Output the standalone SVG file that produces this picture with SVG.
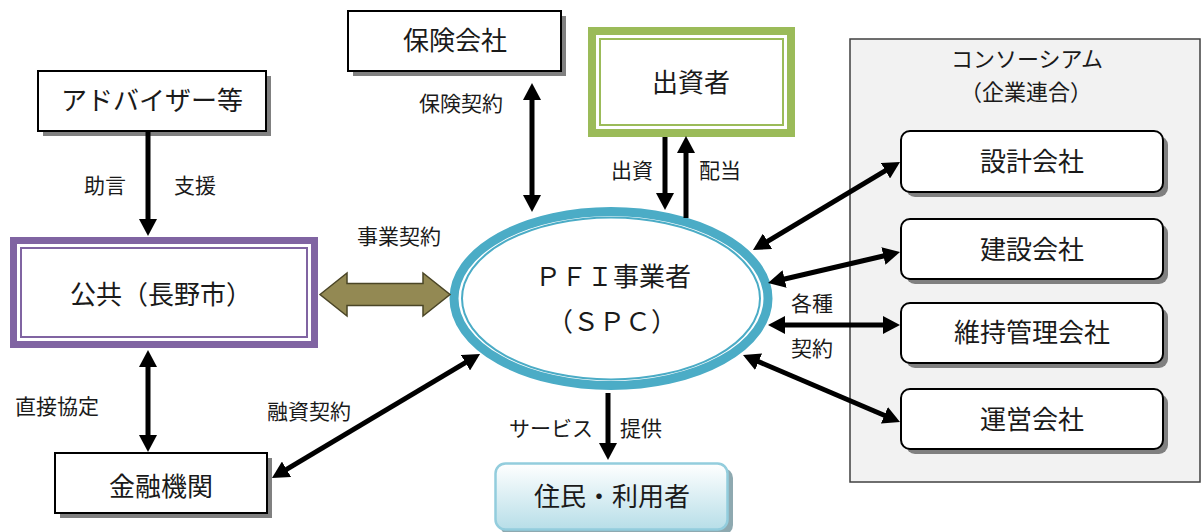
<svg xmlns="http://www.w3.org/2000/svg" width="1201" height="532" viewBox="0 0 1201 532">
<style>
text{font-family:"Noto Sans CJK JP","Noto Sans",sans-serif;fill:#1a1a1a;text-anchor:middle}
.big{font-size:26px}
.lbl{font-size:21px}
.box{fill:#fff;stroke:#000;stroke-width:2}
.shadow{fill:#808080}
.con{stroke:#000;stroke-width:5;fill:none}
.sub{fill:#fff;stroke:#000;stroke-width:2}
</style>
<defs>
<marker id="ah" viewBox="0 0 17 18" refX="1" refY="9" markerWidth="17" markerHeight="18" markerUnits="userSpaceOnUse" orient="auto-start-reverse">
<path d="M0,0 L17,9 L0,18 Z" fill="#000"/>
</marker>
<linearGradient id="lg" x1="0" y1="0" x2="0" y2="1">
<stop offset="0" stop-color="#ffffff"/>
<stop offset="1" stop-color="#b7dee8"/>
</linearGradient>
</defs>
<rect x="0" y="0" width="1201" height="532" fill="#fff"/>

<g id="consortium">
<rect x="850" y="39" width="350" height="443" fill="#f2f2f2" stroke="#404040" stroke-width="1.5"/>
<text class="lbl" x="1027" y="67" style="font-size:22px">コンソーシアム</text>
<text class="lbl" x="1026" y="100" style="font-size:22px">（企業連合）</text>
</g>

<g id="advisor">
<rect class="shadow" x="43" y="76" width="228" height="60"/>
<rect class="box" x="38" y="71" width="228" height="60"/>
<text class="big" x="152" y="110">アドバイザー等</text>
</g>

<g id="insurance">
<rect class="shadow" x="353" y="16" width="213" height="60"/>
<rect class="box" x="348" y="11" width="213" height="60"/>
<text class="big" x="455" y="50">保険会社</text>
</g>

<g id="investor">
<rect x="592" y="31" width="199" height="102" fill="#fff" stroke="#9bbb59" stroke-width="8"/>
<rect x="600" y="39" width="183" height="86" fill="none" stroke="#9bbb59" stroke-width="2"/>
<text class="big" x="691" y="92">出資者</text>
</g>

<g id="public">
<rect x="13.5" y="240.5" width="301" height="104" fill="#fff" stroke="#8064a2" stroke-width="7"/>
<rect x="21" y="248" width="286" height="89" fill="none" stroke="#8064a2" stroke-width="2"/>
<text class="big" x="161" y="304">公共（長野市）</text>
</g>

<g id="finance">
<rect class="shadow" x="60" y="458" width="212" height="60"/>
<rect class="box" x="55" y="453" width="212" height="60"/>
<text class="big" x="161" y="496">金融機関</text>
</g>

<g id="spc">
<ellipse cx="611" cy="298.5" rx="157" ry="87" fill="#fff" stroke="#4bacc6" stroke-width="9"/>
<ellipse cx="611" cy="298.5" rx="149" ry="81" fill="none" stroke="#4bacc6" stroke-width="2"/>
<text class="big" x="613" y="286">ＰＦＩ事業者</text>
<text class="big" x="612" y="331">（ＳＰＣ）</text>
</g>

<g id="residents">
<rect x="500" y="468" width="233" height="67" rx="10" fill="#8ea9b0"/>
<rect x="495.5" y="463.5" width="232" height="66" rx="10" fill="url(#lg)" stroke="#93cddd" stroke-width="2.5"/>
<text class="big" x="612" y="506">住民・利用者</text>
</g>

<g id="design">
<rect x="906" y="136" width="262" height="61" rx="9" class="shadow"/>
<rect x="901" y="131" width="262" height="61" rx="9" class="sub"/>
<text class="big" x="1032" y="171">設計会社</text>
</g>
<g id="construction">
<rect x="906" y="224" width="262" height="60" rx="9" class="shadow"/>
<rect x="901" y="219" width="262" height="60" rx="9" class="sub"/>
<text class="big" x="1032" y="259">建設会社</text>
</g>
<g id="maintenance">
<rect x="906" y="308" width="262" height="60" rx="9" class="shadow"/>
<rect x="901" y="303" width="262" height="60" rx="9" class="sub"/>
<text class="big" x="1032" y="342">維持管理会社</text>
</g>
<g id="operation">
<rect x="906" y="394" width="262" height="60" rx="9" class="shadow"/>
<rect x="901" y="389" width="262" height="60" rx="9" class="sub"/>
<text class="big" x="1032" y="429">運営会社</text>
</g>

<g id="connectors">
<line class="con" x1="148" y1="131" x2="148" y2="220" marker-end="url(#ah)"/>
<line class="con" x1="532" y1="99" x2="532" y2="196" marker-start="url(#ah)" marker-end="url(#ah)"/>
<line class="con" x1="665" y1="137" x2="665" y2="194" marker-end="url(#ah)"/>
<line class="con" x1="686" y1="218" x2="686" y2="152" marker-end="url(#ah)"/>
<line class="con" x1="148" y1="366" x2="148" y2="436" marker-start="url(#ah)" marker-end="url(#ah)"/>
<line class="con" x1="608" y1="393" x2="608" y2="444" marker-end="url(#ah)"/>
<line class="con" x1="285.7" y1="469.8" x2="466.3" y2="362.2" marker-start="url(#ah)" marker-end="url(#ah)"/>
<line class="con" x1="766.7" y1="241.8" x2="886.3" y2="170.2" marker-start="url(#ah)" marker-end="url(#ah)"/>
<line class="con" x1="783.6" y1="279.3" x2="884.4" y2="255.7" marker-start="url(#ah)" marker-end="url(#ah)"/>
<line class="con" x1="784" y1="325" x2="884" y2="325" marker-start="url(#ah)" marker-end="url(#ah)"/>
<line class="con" x1="757.7" y1="361.3" x2="885.3" y2="415.7" marker-start="url(#ah)" marker-end="url(#ah)"/>
<path d="M320,294.5 L347,273 L347,283.5 L423,283.5 L423,273 L450,294.5 L423,316 L423,305.5 L347,305.5 L347,316 Z" fill="#938953" stroke="#4a4526" stroke-width="1.5"/>
</g>

<g id="labels">
<text class="lbl" x="105" y="193">助言</text>
<text class="lbl" x="195" y="193">支援</text>
<text class="lbl" x="461" y="111">保険契約</text>
<text class="lbl" x="399" y="244">事業契約</text>
<text class="lbl" x="632" y="178">出資</text>
<text class="lbl" x="720" y="178">配当</text>
<text class="lbl" x="57" y="414">直接協定</text>
<text class="lbl" x="309" y="419">融資契約</text>
<text class="lbl" x="551" y="436">サービス</text>
<text class="lbl" x="641" y="436">提供</text>
<text class="lbl" x="812" y="311">各種</text>
<text class="lbl" x="812" y="356">契約</text>
</g>
</svg>
